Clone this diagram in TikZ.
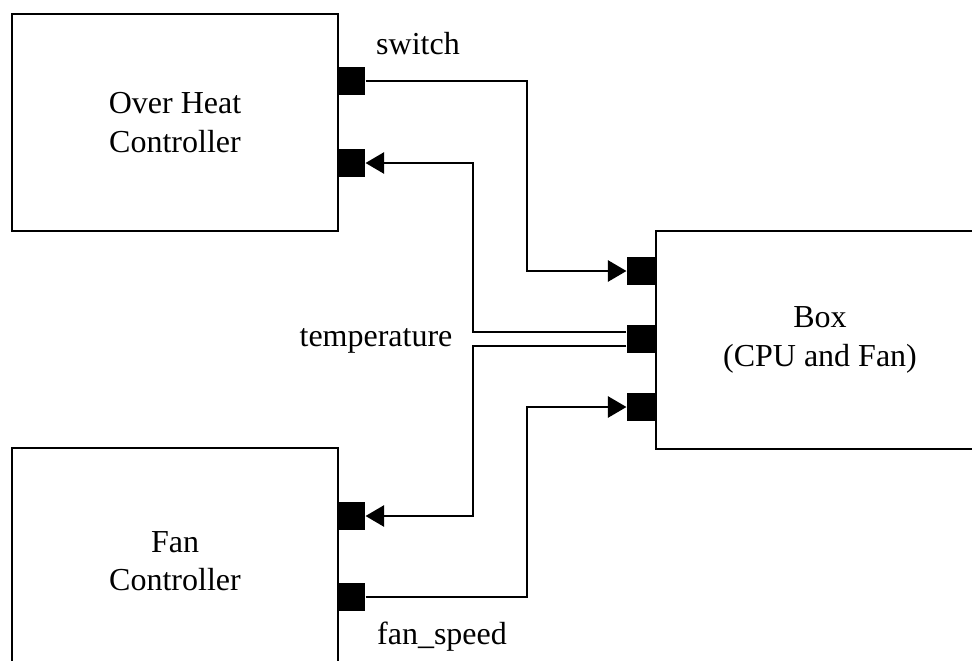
\documentclass[tikz,border=0pt]{standalone}
\usepackage{fontspec}
\setmainfont{Liberation Serif}
\usepackage{tikz}
\usetikzlibrary{positioning, arrows.meta}

\tikzset{
  block/.style={draw, line width=1.5pt, anchor=north west, align=center,
                inner sep=0pt},
  port/.style={fill=black, minimum size=21pt, inner sep=0pt, anchor=west},
  sig/.style={line width=1.5pt, -{Triangle[length=14pt, width=16pt]}},
  lbl/.style={inner sep=0pt}
}

\begin{document}
\begin{tikzpicture}[x=0.75pt, y=-0.75pt, font=\fontsize{24}{28.8}\selectfont]
  \clip (0,0) rectangle (972,661);
  \fill[white] (0,0) rectangle (972,661);

  % blocks
  \node[block, minimum width=244.5pt, minimum height=162.75pt] (ohc) at (11,13)
    {Over Heat\\Controller};
  \node[block, minimum width=246pt, minimum height=163.5pt] (box) at (655,230)
    {Box\\(CPU and Fan)};
  \node[block, minimum width=244.5pt, minimum height=169.5pt] (fc) at (11,447)
    {Fan\\Controller};

  % ports
  \node[port] (ohcsw) at (337,81) {};
  \node[port] (ohctmp) at (337,163) {};
  \node[port] (fctmp) at (337,516) {};
  \node[port] (fcspd) at (337,597) {};
  \node[port, anchor=east] (boxsw) at (655,271) {};
  \node[port, anchor=east] (boxtmp) at (655,339) {};
  \node[port, anchor=east] (boxspd) at (655,407) {};

  % signals
  \draw[sig] (ohcsw.east) -| (527,271) -- (boxsw.west);
  \draw[sig] ([yshift=5pt]boxtmp.west) -| (473,163) -- (ohctmp.east);
  \draw[sig] ([yshift=-5pt]boxtmp.west) -| (473,516) -- (fctmp.east);
  \draw[sig] (fcspd.east) -| (527,407) -- (boxspd.west);

  % labels
  \node[lbl] (swlbl) at (418,44) {switch};
  \node[lbl] (tmplbl) at (376,341) {temperature};
  \node[lbl] (spdlbl) at (442,637) {fan\_speed};
\end{tikzpicture}
\end{document}
